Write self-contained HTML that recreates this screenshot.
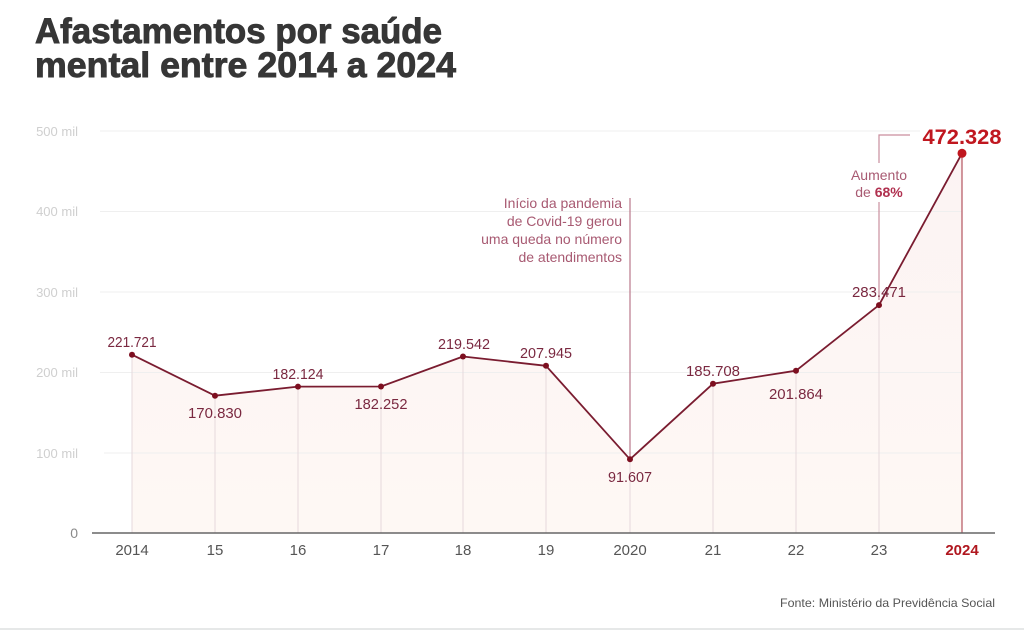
<!DOCTYPE html>
<html>
<head>
<meta charset="utf-8">
<style>
  html,body{margin:0;padding:0;background:#fff;}
  svg{display:block;}
  text{font-family:"Liberation Sans", Arial, sans-serif;}
</style>
</head>
<body>
<svg width="1024" height="630" viewBox="0 0 1024 630" xmlns="http://www.w3.org/2000/svg">
  <defs>
    <linearGradient id="area" x1="0" y1="0" x2="0" y2="1">
      <stop offset="0" stop-color="#fcf3f3"/>
      <stop offset="1" stop-color="#fef8f4"/>
    </linearGradient>
  </defs>
  <rect width="1024" height="630" fill="#fff"/>

  <!-- Title -->
  <text x="35" y="43" font-size="35" font-weight="bold" fill="#363636" stroke="#363636" stroke-width="0.9" textLength="407" lengthAdjust="spacingAndGlyphs">Afastamentos por saúde</text>
  <text x="35" y="77" font-size="35" font-weight="bold" fill="#363636" stroke="#363636" stroke-width="0.9" textLength="421" lengthAdjust="spacingAndGlyphs">mental entre 2014 a 2024</text>

  <!-- Area -->
  <polygon fill="url(#area)" points="132,533 132,354.7 215,395.7 298,386.6 381,386.5 463,356.5 546,365.8 630,459.3 713,383.7 796,370.7 879,305.1 962,153.3 962,533"/>

  <!-- Gridlines -->
  <g stroke="#efefef" stroke-width="1">
    <line x1="100" y1="131" x2="920" y2="131"/>
    <line x1="100" y1="211.5" x2="962" y2="211.5"/>
    <line x1="100" y1="292" x2="962" y2="292"/>
    <line x1="100" y1="372.5" x2="962" y2="372.5"/>
    <line x1="104" y1="453" x2="962" y2="453"/>
  </g>

  <!-- Y labels -->
  <g font-size="13" fill="#cfcfcf" text-anchor="end">
    <text x="78" y="136">500 mil</text>
    <text x="78" y="216">400 mil</text>
    <text x="78" y="297">300 mil</text>
    <text x="78" y="377">200 mil</text>
    <text x="78" y="458">100 mil</text>
  </g>
  <text x="78" y="538" font-size="14" fill="#8a8a8a" text-anchor="end">0</text>

  <!-- Drop lines -->
  <g stroke="#e6d9dd" stroke-width="1">
    <line x1="132" y1="355" x2="132" y2="533"/>
    <line x1="215" y1="396" x2="215" y2="533"/>
    <line x1="298" y1="387" x2="298" y2="533"/>
    <line x1="381" y1="387" x2="381" y2="533"/>
    <line x1="463" y1="357" x2="463" y2="533"/>
    <line x1="546" y1="366" x2="546" y2="533"/>
    <line x1="630" y1="459" x2="630" y2="533"/>
    <line x1="713" y1="384" x2="713" y2="533"/>
    <line x1="796" y1="371" x2="796" y2="533"/>
    <line x1="879" y1="305" x2="879" y2="533"/>
  </g>
  <!-- 2020 annotation leader -->
  <line x1="630" y1="198" x2="630" y2="459" stroke="#b9798b" stroke-width="1.2"/>
  <!-- 2023 bracket -->
  <g stroke="#c98e9e" stroke-width="1.2" fill="none">
    <polyline points="910,135 879,135 879,163"/>
    <line x1="879" y1="202" x2="879" y2="300"/>
  </g>
  <!-- 2024 drop -->
  <line x1="962" y1="153" x2="962" y2="533" stroke="#b4545f" stroke-width="1.2"/>

  <!-- Axis -->
  <line x1="92" y1="533" x2="995" y2="533" stroke="#666" stroke-width="1.5"/>

  <!-- Data line -->
  <polyline fill="none" stroke="#7a1c30" stroke-width="1.8" stroke-linejoin="round"
    points="132,354.7 215,395.7 298,386.6 381,386.5 463,356.5 546,365.8 630,459.3 713,383.7 796,370.7 879,305.1 962,153.3"/>
  <g fill="#7d0f20">
    <circle cx="132" cy="354.7" r="3"/>
    <circle cx="215" cy="395.7" r="3"/>
    <circle cx="298" cy="386.6" r="3"/>
    <circle cx="381" cy="386.5" r="3"/>
    <circle cx="463" cy="356.5" r="3"/>
    <circle cx="546" cy="365.8" r="3"/>
    <circle cx="630" cy="459.3" r="3"/>
    <circle cx="713" cy="383.7" r="3"/>
    <circle cx="796" cy="370.7" r="3"/>
    <circle cx="879" cy="305.1" r="3"/>
  </g>
  <circle cx="962" cy="153.3" r="4.5" fill="#c0171f"/>

  <!-- Data labels -->
  <g font-size="14.5" fill="#7a2840" text-anchor="middle">
    <text x="132" y="347" textLength="49" lengthAdjust="spacingAndGlyphs">221.721</text>
    <text x="215" y="418" textLength="54" lengthAdjust="spacingAndGlyphs">170.830</text>
    <text x="298" y="379" textLength="51" lengthAdjust="spacingAndGlyphs">182.124</text>
    <text x="381" y="409" textLength="53" lengthAdjust="spacingAndGlyphs">182.252</text>
    <text x="464" y="349" textLength="52" lengthAdjust="spacingAndGlyphs">219.542</text>
    <text x="546" y="358" textLength="52" lengthAdjust="spacingAndGlyphs">207.945</text>
    <text x="630" y="482" textLength="44" lengthAdjust="spacingAndGlyphs">91.607</text>
    <text x="713" y="376" textLength="54" lengthAdjust="spacingAndGlyphs">185.708</text>
    <text x="796" y="399" textLength="54" lengthAdjust="spacingAndGlyphs">201.864</text>
    <text x="879" y="297" textLength="54" lengthAdjust="spacingAndGlyphs">283.471</text>
  </g>
  <text x="962" y="144" font-size="21" font-weight="bold" fill="#c0171f" text-anchor="middle" textLength="79" lengthAdjust="spacingAndGlyphs">472.328</text>

  <!-- Annotations -->
  <g font-size="14" fill="#a85a72" text-anchor="end">
    <text x="622" y="208">Início da pandemia</text>
    <text x="622" y="226">de Covid-19 gerou</text>
    <text x="622" y="244">uma queda no número</text>
    <text x="622" y="262">de atendimentos</text>
  </g>
  <g font-size="14" fill="#a85a72" text-anchor="middle">
    <text x="879" y="180">Aumento</text>
    <text x="879" y="197">de <tspan font-weight="bold" fill="#b0304f">68%</tspan></text>
  </g>

  <!-- X labels -->
  <g font-size="15" fill="#555" text-anchor="middle">
    <text x="132" y="555">2014</text>
    <text x="215" y="555">15</text>
    <text x="298" y="555">16</text>
    <text x="381" y="555">17</text>
    <text x="463" y="555">18</text>
    <text x="546" y="555">19</text>
    <text x="630" y="555">2020</text>
    <text x="713" y="555">21</text>
    <text x="796" y="555">22</text>
    <text x="879" y="555">23</text>
  </g>
  <text x="962" y="555" font-size="15" font-weight="bold" fill="#b0171f" text-anchor="middle">2024</text>

  <!-- Source -->
  <text x="995" y="607" font-size="12" fill="#555" text-anchor="end" textLength="215" lengthAdjust="spacingAndGlyphs">Fonte: Ministério da Previdência Social</text>

  <!-- bottom band -->
  <rect x="0" y="628" width="1024" height="2" fill="#e6e8e8"/>
</svg>
</body>
</html>
